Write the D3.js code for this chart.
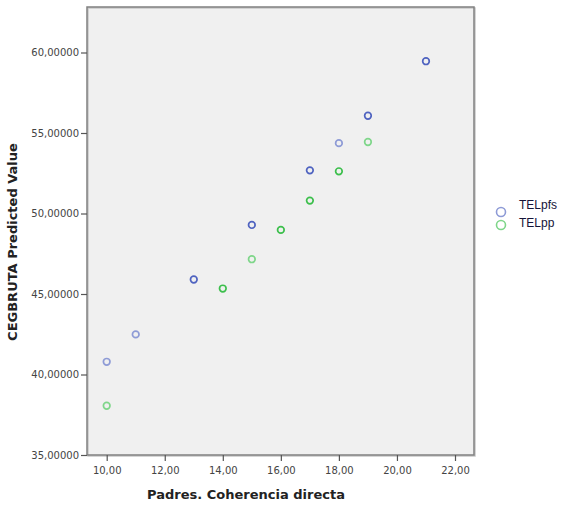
<!DOCTYPE html>
<html><head><meta charset="utf-8">
<script src="https://cdn.jsdelivr.net/npm/d3@7/dist/d3.min.js"></script>
<style>body{margin:0;background:#fff;}svg{display:block;font-family:"DejaVu Sans",Arial,sans-serif;}</style>
</head><body><svg id="c" width="563" height="506"></svg>
<script>
const seriesNames = ["TELpfs", "TELpp"];
const pfsX = [10, 11, 13, 15, 17, 18, 19, 21];
const pfsY = [40.79, 42.49, 45.90, 49.29, 52.68, 54.37, 56.07, 59.46];
const pfsN = [1, 1, 2, 2, 2, 1, 2, 2];
const ppX = [10, 14, 15, 16, 17, 18, 19];
const ppY = [38.06, 45.34, 47.16, 48.98, 50.80, 52.62, 54.44];
const ppN = [1, 2, 1, 2, 2, 2, 1];
const xTicks = [10, 12, 14, 16, 18, 20, 22];
const yTicks = [35, 40, 45, 50, 55, 60];

const colors = {TELpfs: {light: "#8e9bd6", dark: "#4f63c0"}, TELpp: {light: "#7fd68a", dark: "#3cbf4c"}};

const svg = d3.select("#c");
const L = 87, R = 474, T = 7, B = 455;
const x = d3.scaleLinear().domain([10, 22]).range([106.7, 455]);
const y = d3.scaleLinear().domain([35, 60]).range([455, 52.5]);

svg.append("rect").attr("x", L).attr("y", T).attr("width", R - L).attr("height", B - T)
  .attr("fill", "#f0f0f0").attr("stroke", "none");
svg.append("rect").attr("x", L + 1).attr("y", T + 1).attr("width", R - L).attr("height", B - T)
  .attr("fill", "none").attr("stroke", "#c8c8c8").attr("stroke-width", 1.5);
svg.append("rect").attr("x", L).attr("y", T).attr("width", R - L).attr("height", B - T)
  .attr("fill", "none").attr("stroke", "#808080").attr("stroke-width", 1.5);

const fmtX = d => d3.format(".2f")(d).replace(".", ",");
const fmtY = d => d3.format(".5f")(d).replace(".", ",");

const xAxis = svg.append("g").attr("transform", `translate(0,${B})`)
  .call(d3.axisBottom(x).tickValues(xTicks).tickFormat(fmtX).tickSize(6).tickSizeOuter(0));
xAxis.select(".domain").remove();
xAxis.selectAll("line").attr("stroke", "#555").attr("stroke-width", 1.2);
xAxis.selectAll("text").attr("fill", "#444").attr("font-size", "10px").attr("dy", "0.95em")
  .attr("font-family", "'DejaVu Sans',sans-serif");

const yAxis = svg.append("g").attr("transform", `translate(${L},0)`)
  .call(d3.axisLeft(y).tickValues(yTicks).tickFormat(fmtY).tickSize(6).tickSizeOuter(0));
yAxis.select(".domain").remove();
yAxis.selectAll("line").attr("stroke", "#555").attr("stroke-width", 1.2);
yAxis.selectAll("text").attr("fill", "#444").attr("font-size", "10px").attr("x", -8)
  .attr("font-family", "'DejaVu Sans',sans-serif");

svg.append("text").attr("x", 246).attr("y", 499).attr("text-anchor", "middle")
  .attr("font-weight", "bold").attr("font-size", "13px").attr("fill", "#222").text("Padres. Coherencia directa");
svg.append("text").attr("transform", "translate(17,242) rotate(-90)").attr("text-anchor", "middle")
  .attr("font-weight", "bold").attr("font-size", "13px").attr("fill", "#222").text("CEGBRUTA Predicted Value");

function drawSeries(name, xs, ys, ns) {
  const data = xs.map((v, i) => ({x: v, y: ys[i], n: ns[i]}));
  svg.append("g").selectAll("circle").data(data).join("circle")
    .attr("cx", d => x(d.x)).attr("cy", d => y(d.y)).attr("r", 3.3)
    .attr("fill", "none").attr("stroke-width", 1.7)
    .attr("stroke", d => d.n > 1 ? colors[name].dark : colors[name].light);
}
drawSeries("TELpfs", pfsX, pfsY, pfsN);
drawSeries("TELpp", ppX, ppY, ppN);

const leg = svg.append("g");
const legCircleY = [212, 225];
const legTextY = [205, 223];
seriesNames.forEach((s, i) => {
  leg.append("circle").attr("cx", 501).attr("cy", legCircleY[i]).attr("r", 4.5).attr("fill", "none")
    .attr("stroke", colors[s].light).attr("stroke-width", 1.6);
  leg.append("text").attr("x", 519).attr("y", legTextY[i]).attr("dy", "0.35em").attr("font-size", "12px")
    .attr("font-family", "Arial,'Liberation Sans',sans-serif")
    .attr("fill", "#141438").text(s);
});
</script></body></html>
